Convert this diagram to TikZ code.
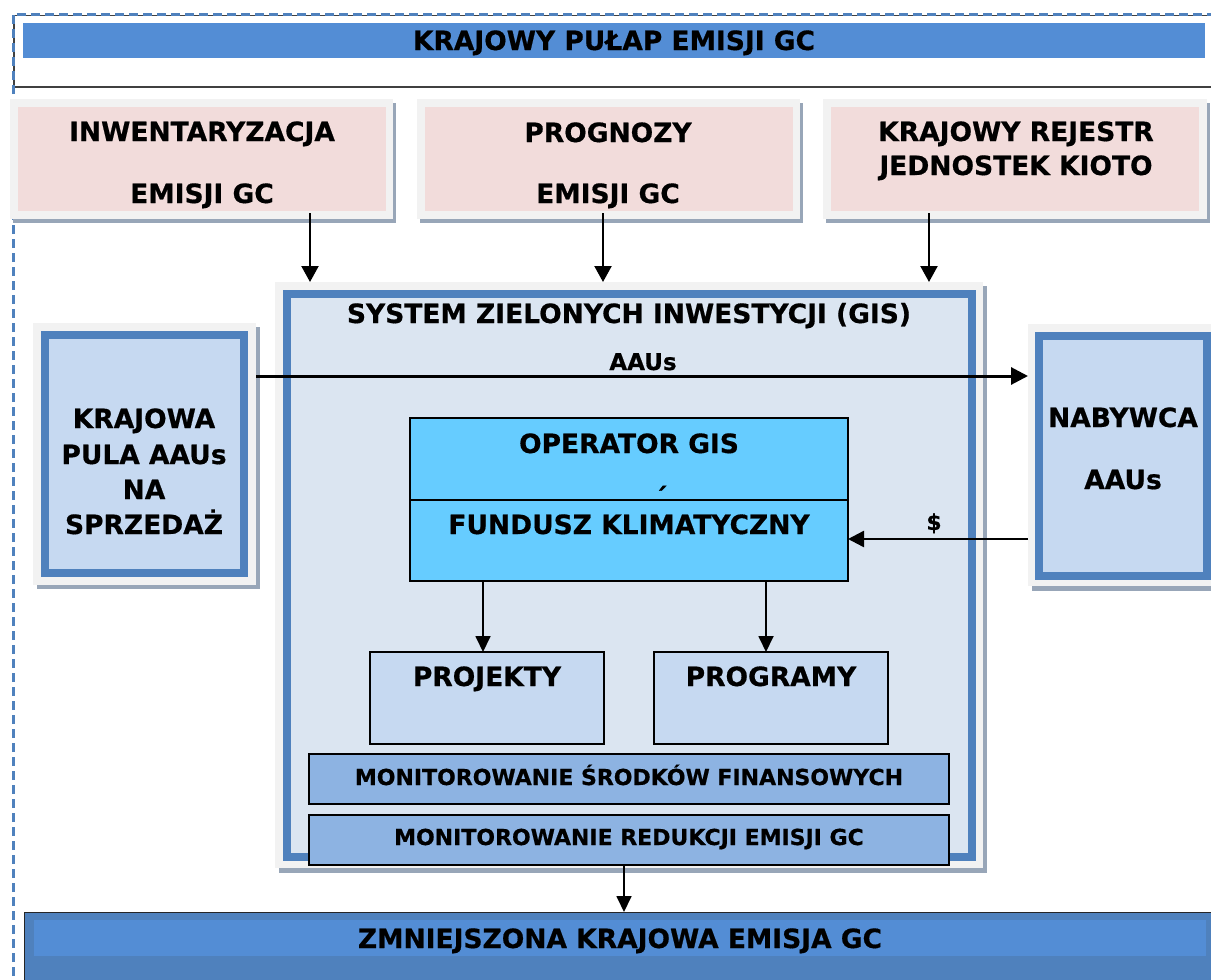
\documentclass[tikz,border=0pt]{standalone}
\usepackage{fontspec}
\setmainfont{DejaVu Sans}[BoldFeatures={FakeBold=0.6}]
\usetikzlibrary{arrows.meta}
\definecolor{pinkf}{HTML}{F2DCDB}
\definecolor{framec}{HTML}{F2F2F2}
\definecolor{shadowc}{HTML}{98A6B8}
\definecolor{blueb}{HTML}{4F81BD}
\definecolor{gisf}{HTML}{DBE5F1}
\definecolor{boxf}{HTML}{C6D9F1}
\definecolor{opf}{HTML}{66CCFF}
\definecolor{monf}{HTML}{8DB3E2}
\definecolor{barf}{HTML}{538DD5}
\definecolor{darkline}{HTML}{404040}
\tikzset{
  nw/.style={anchor=north west, inner sep=0pt, outer sep=0pt},
  framebox/.style={nw, fill=framec},
  shadowbox/.style={nw, fill=shadowc},
  pinkbox/.style={nw, fill=pinkf},
  bluebox/.style={nw, draw=blueb, line width=8pt, fill=boxf},
  linebox/.style={nw, draw=black, line width=1.5pt},
  txt/.style={anchor=base, inner sep=0pt, font=\fontsize{26.5}{32}\selectfont\bfseries},
  stxt/.style={anchor=base, inner sep=0pt, font=\fontsize{22}{26}\selectfont\bfseries},
  arr/.style={line width=2.2pt, -{Triangle[width=17pt,length=16pt]}},
  thinarr/.style={line width=1.8pt, -{Triangle[width=15pt,length=16pt]}},
}
\begin{document}
\begin{tikzpicture}[x=1pt,y=-1pt]
\useasboundingbox (0,0) rectangle (1211,980);
% outer dashed frame and title
\draw[darkline, line width=1.5pt] (14,15.5) rectangle (1240,87);
\draw[blueb, line width=3pt, dash pattern=on 9pt off 5pt] (13,990) -- (13,14) -- (1215,14);
\node[nw, fill=barf, minimum width=1182pt, minimum height=35pt] (titlebar) at (23,23) {};
\node[txt] (titletxt) at (614,50) {KRAJOWY PUŁAP EMISJI GC};
% three pink boxes
\node[shadowbox, minimum width=383pt, minimum height=120pt] (s1) at (13,103) {};
\node[framebox, minimum width=383pt, minimum height=120pt] (f1) at (10,99) {};
\node[pinkbox, minimum width=368pt, minimum height=104pt] (inw) at (18,107) {};
\node[txt] (inwa) at (202,141) {INWENTARYZACJA};
\node[txt] (inwb) at (202,203) {EMISJI GC};
\node[shadowbox, minimum width=383pt, minimum height=120pt] (s2) at (420,103) {};
\node[framebox, minimum width=383pt, minimum height=120pt] (f2) at (417,99) {};
\node[pinkbox, minimum width=368pt, minimum height=104pt] (prog) at (425,107) {};
\node[txt] (proga) at (608,142) {PROGNOZY};
\node[txt] (progb) at (608,203) {EMISJI GC};
\node[shadowbox, minimum width=384pt, minimum height=120pt] (s3) at (826,103) {};
\node[framebox, minimum width=384pt, minimum height=120pt] (f3) at (823,99) {};
\node[pinkbox, minimum width=368pt, minimum height=104pt] (rej) at (831,107) {};
\node[txt] (reja) at (1016,141) {KRAJOWY REJESTR};
\node[txt] (rejb) at (1016,175) {JEDNOSTEK KIOTO};
% GIS box
\node[shadowbox, minimum width=708pt, minimum height=587pt] (gs) at (279,286) {};
\node[framebox, minimum width=708pt, minimum height=586pt] (gisframe) at (275,282) {};
\node[nw, draw=blueb, line width=8pt, fill=gisf, minimum width=685pt, minimum height=563pt] (gis) at (287,294) {};
\node[txt] (gistxt) at (629,323) {SYSTEM ZIELONYCH INWESTYCJI (GIS)};
% arrows from top boxes
\coordinate (c1) at (310,0);
\coordinate (c2) at (603,0);
\coordinate (c3) at (929,0);
\draw[arr] (c1 |- inw.south) ++(0,2) -- (c1 |- gisframe.north);
\draw[arr] (c2 |- prog.south) ++(0,2) -- (c2 |- gisframe.north);
\draw[arr] (c3 |- rej.south) ++(0,2) -- (c3 |- gisframe.north);
% left pool box
\node[shadowbox, minimum width=223pt, minimum height=262pt] (ls) at (37,327) {};
\node[framebox, minimum width=223pt, minimum height=262pt] (lpoolframe) at (33,323) {};
\node[bluebox, minimum width=199pt, minimum height=238pt] (lpool) at (45,335) {};
\node[txt] (lpa) at (144,428) {KRAJOWA};
\node[txt] (lpb) at (144,464) {PULA AAUs};
\node[txt] (lpc) at (144,499) {NA};
\node[txt] (lpd) at (144,534) {SPRZEDAŻ};
% right buyer box
\node[shadowbox, minimum width=190pt, minimum height=263pt] (rs) at (1032,328) {};
\node[framebox, minimum width=190pt, minimum height=262pt] (nabframe) at (1028,324) {};
\node[bluebox, minimum width=168pt, minimum height=240pt] (nab) at (1039,336) {};
\node[txt] (naba) at (1123,427) {NABYWCA};
\node[txt] (nabb) at (1123,489) {AAUs};
% AAUs arrow
\coordinate (yaau) at (0,376);
\draw[line width=3pt, -{Triangle[width=17pt,length=17pt]}] (lpoolframe.east |- yaau) -- (nabframe.west |- yaau);
\node[stxt, font=\fontsize{23}{26}\selectfont\bfseries] (aautxt) at (643,370) {AAUs};
% operator / fund box
\node[linebox, fill=opf, minimum width=438pt, minimum height=163pt] (operator) at (410,418) {};
\draw[line width=1.5pt] (operator.west |- 0,500) -- (operator.east |- 0,500);
\node[txt] (optxt) at (629,453) {OPERATOR GIS};
\node[txt] (acc) at (661,507) {´};
\node[txt] (fundtxt) at (629,534) {FUNDUSZ KLIMATYCZNY};
% $ arrow
\coordinate (ydol) at (0,539);
\draw[line width=2.5pt, -{Triangle[width=16pt,length=16pt]}] (nabframe.west |- ydol) -- (operator.east |- ydol);
\node[stxt] (dol) at (934,530) {\$};
% projects and programs
\node[linebox, fill=boxf, minimum width=234pt, minimum height=92pt] (proj) at (370,652) {};
\node[txt] (projtxt) at (487,686) {PROJEKTY};
\node[linebox, fill=boxf, minimum width=234pt, minimum height=92pt] (progr) at (654,652) {};
\node[txt] (progrtxt) at (771,686) {PROGRAMY};
\coordinate (d1) at (483,0);
\coordinate (d2) at (766,0);
\draw[thinarr] (d1 |- operator.south) -- (d1 |- proj.north);
\draw[thinarr] (d2 |- operator.south) -- (d2 |- progr.north);
% monitoring bars
\node[linebox, fill=monf, minimum width=640pt, minimum height=50pt] (mon1) at (309,754) {};
\node[stxt] (mon1txt) at (629,785) {MONITOROWANIE ŚRODKÓW FINANSOWYCH};
\node[linebox, fill=monf, minimum width=640pt, minimum height=50pt] (mon2) at (309,815) {};
\node[stxt] (mon2txt) at (629,845) {MONITOROWANIE REDUKCJI EMISJI GC};
% bottom bar
\node[nw, fill=blueb, draw=black!85, line width=1pt, minimum width=1220pt, minimum height=90pt] (bottom) at (24,912) {};
\node[nw, fill=barf, minimum width=1172pt, minimum height=36pt] (bottominner) at (34,920) {};
\node[txt] (bottomtxt) at (620,948) {ZMNIEJSZONA KRAJOWA EMISJA GC};
\coordinate (d3) at (624,0);
\draw[thinarr] (d3 |- mon2.south) -- (d3 |- bottom.north);
\end{tikzpicture}
\end{document}
